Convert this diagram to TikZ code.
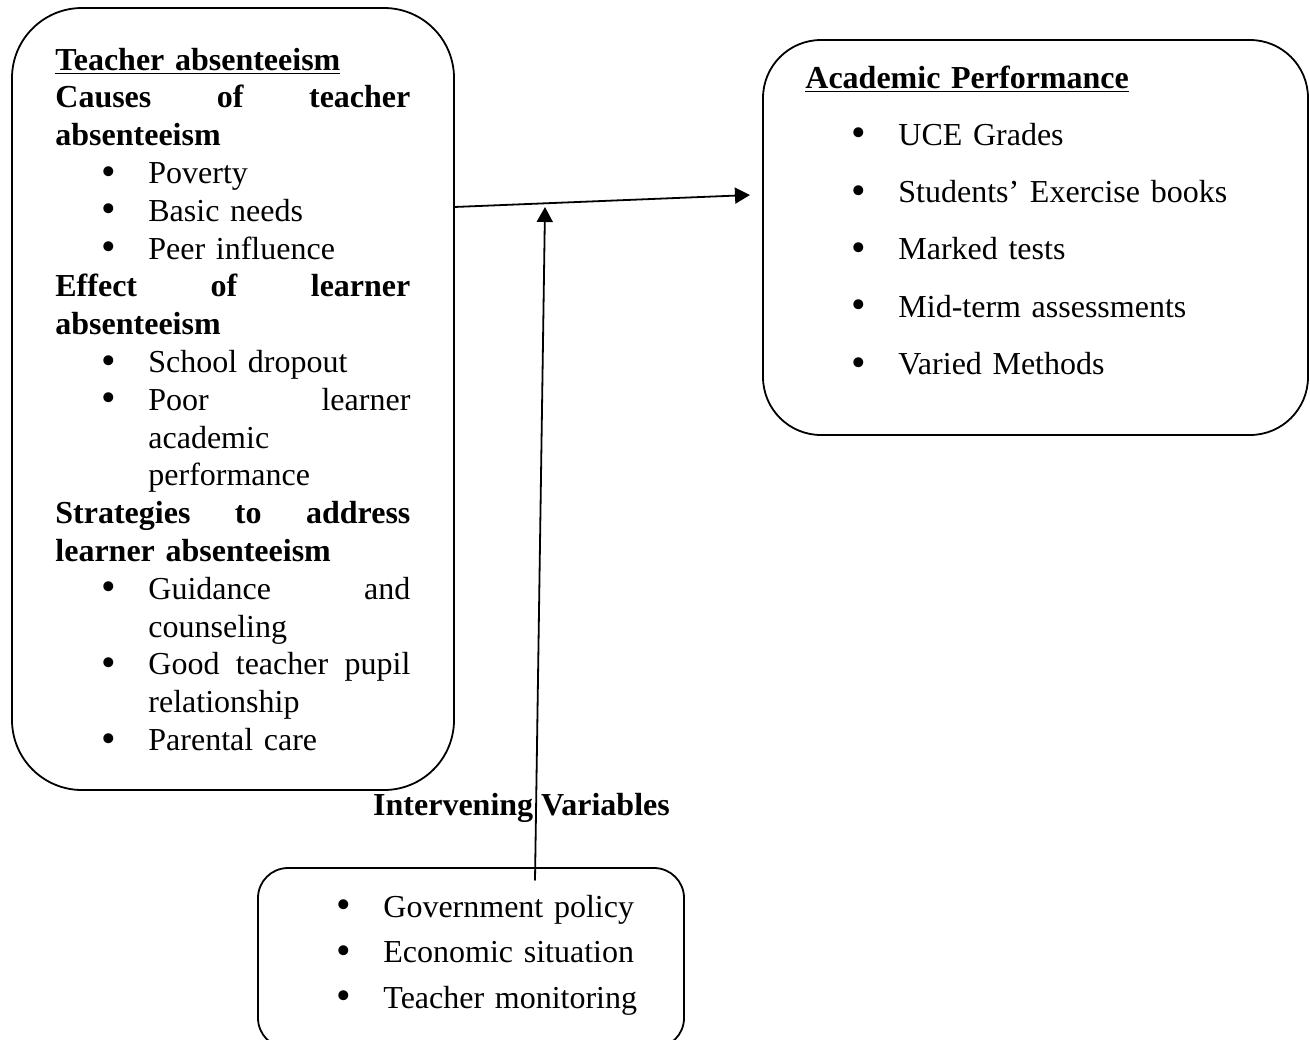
\documentclass[tikz,border=0pt]{standalone}
\usepackage{fontspec}
\setmainfont{Liberation Serif}
\usetikzlibrary{arrows.meta}

\newcommand{\bul}[1][23pt]{\hspace*{#1}\makebox[23.5pt][l]{\raisebox{-0.8pt}{\scalebox{1.3}{\textbullet}}}}
\newcommand{\hang}{\hspace*{46.5pt}}

\begin{document}
\begin{tikzpicture}[
  x=0.5pt, y=-0.5pt,
  line cap=round, line join=round,
  >={Triangle[length=7.5pt, width=8pt]},
  panel/.style={draw, line width=0.9pt, inner sep=0pt},
  txt/.style={anchor=base west, inner sep=0pt, align=left}
]
  \clip (0,0) rectangle (1310,1039);

  % ── Boxes ────────────────────────────────────────────────────────────────

  \node[panel, rounded corners=35pt, minimum width=221pt, minimum height=391pt]
      (cause) at (233,399) {};
  \node[panel, rounded corners=29pt, minimum width=272.5pt, minimum height=197.5pt]
      (perf) at (1035.5,237.5) {};
  \node[panel, rounded corners=15pt, minimum width=213pt, minimum height=90pt]
      (inter) at (471,958) {};

  % ── Texts ────────────────────────────────────────────────────────────────

  % Independent variable
  \node[txt, text width=177.5pt, font=\fontsize{16}{18.9}\selectfont]
      (causetxt) at (55,70)
      {\textbf{\underline{Teacher absenteeism}}\\
       \textbf{Causes\hfill of\hfill teacher}\\
       \textbf{absenteeism}\\
       \bul Poverty\\
       \bul Basic needs\\
       \bul Peer influence\\
       \textbf{Effect\hfill of\hfill learner}\\
       \textbf{absenteeism}\\
       \bul School dropout\\
       \bul Poor\hfill learner\\
       \hang academic\\
       \hang performance\\
       \textbf{Strategies\hfill to\hfill address}\\
       \textbf{learner absenteeism}\\
       \bul Guidance\hfill and\\
       \hang counseling\\
       \bul Good\hfill teacher\hfill pupil\\
       \hang relationship\\
       \bul Parental care};

  % Dependent variable
  \node[txt, text width=240pt, font=\fontsize{16}{28.65}\selectfont]
      (perftxt) at (805,88)
      {\textbf{\underline{Academic Performance}}\\
       \bul UCE Grades\\
       \bul Students’ Exercise books\\
       \bul Marked tests\\
       \bul Mid-term assessments\\
       \bul Varied Methods};

  % Intervening variables
  \node[anchor=base, inner sep=0pt, font=\fontsize{16}{19}\selectfont\bfseries]
      (intertitle) at (521.5,815) {Intervening Variables};
  \node[txt, text width=170pt, font=\fontsize{16}{22.75}\selectfont]
      (intertxt) at (336,917)
      {\bul[0pt]Government policy\\
       \bul[0pt]Economic situation\\
       \bul[0pt]Teacher monitoring};

  % ── Connectors ───────────────────────────────────────────────────────────

  \coordinate (hA) at (454,207);
  \coordinate (hB) at (750,195);
  \coordinate (vA) at (535,880);
  \coordinate (vB) at (545,207);

  \draw[->, line width=0.9pt] (hA) -- (hB);
  \draw[->, line width=0.9pt] (vA) -- (vB);

\end{tikzpicture}
\end{document}
